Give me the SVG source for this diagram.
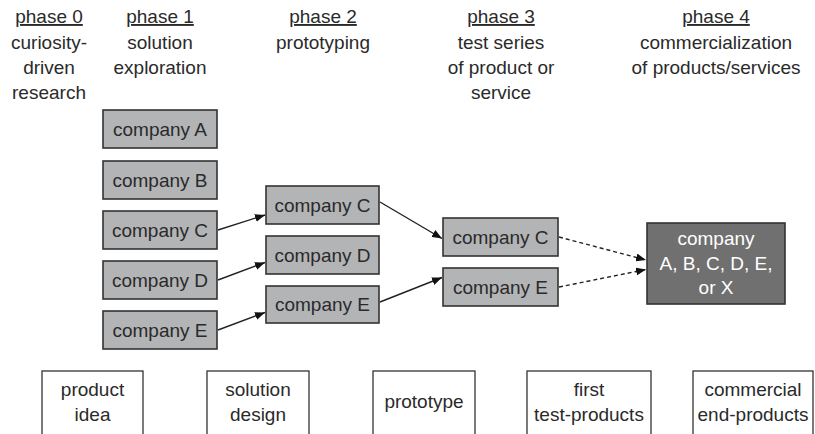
<svg xmlns="http://www.w3.org/2000/svg" width="815" height="434" viewBox="0 0 815 434">
<style>
text{font-family:"Liberation Sans",Arial,sans-serif;font-size:19px;fill:#2a2a2a;text-anchor:middle}
.hd{text-decoration:underline}
.co{fill:#b3b4b6;stroke:#333;stroke-width:1.6}
.dk{fill:#707070;stroke:#333;stroke-width:1.6}
.wt{fill:#fff}
.out{fill:#fff;stroke:#333;stroke-width:1.3}
.cn{stroke:#222;stroke-width:1.4;fill:none}
.ds{stroke-dasharray:4,3}
</style>
<defs>
<marker id="ah" viewBox="0 0 10 8" refX="10" refY="4" markerWidth="10" markerHeight="8" markerUnits="userSpaceOnUse" orient="auto">
<path d="M0,0 L10,4 L0,8 z" fill="#111"/>
</marker>
</defs>
<g id="headers">
<text x="49" y="23" class="hd">phase 0</text>
<text x="49" y="49">curiosity-</text>
<text x="49" y="74">driven</text>
<text x="49" y="99">research</text>
<text x="160" y="23" class="hd">phase 1</text>
<text x="160" y="49">solution</text>
<text x="160" y="74">exploration</text>
<text x="323" y="23" class="hd">phase 2</text>
<text x="323" y="49">prototyping</text>
<text x="501" y="23" class="hd">phase 3</text>
<text x="501" y="49">test series</text>
<text x="501" y="74">of product or</text>
<text x="501" y="99">service</text>
<text x="716" y="23" class="hd">phase 4</text>
<text x="716" y="49">commercialization</text>
<text x="716" y="74">of products/services</text>
</g>
<g id="p1A"><rect class="co" x="103" y="110" width="114" height="38"/><text x="160" y="136">company A</text></g>
<g id="p1B"><rect class="co" x="103" y="161" width="114" height="38"/><text x="160" y="187">company B</text></g>
<g id="p1C"><rect class="co" x="103" y="211" width="114" height="38"/><text x="160" y="237">company C</text></g>
<g id="p1D"><rect class="co" x="103" y="261" width="114" height="38"/><text x="160" y="287">company D</text></g>
<g id="p1E"><rect class="co" x="103" y="311" width="114" height="38"/><text x="160" y="337">company E</text></g>
<g id="p2C"><rect class="co" x="266" y="186" width="113" height="38"/><text x="322.5" y="212">company C</text></g>
<g id="p2D"><rect class="co" x="266" y="236" width="113" height="38"/><text x="322.5" y="262">company D</text></g>
<g id="p2E"><rect class="co" x="266" y="286" width="113" height="37"/><text x="322.5" y="311">company E</text></g>
<g id="p3C"><rect class="co" x="443" y="218" width="115" height="38"/><text x="500.5" y="244">company C</text></g>
<g id="p3E"><rect class="co" x="443" y="268" width="115" height="38"/><text x="500.5" y="294">company E</text></g>
<g id="p4"><rect class="dk" x="647" y="223" width="138" height="81"/>
<text x="716" y="245" class="wt">company</text>
<text x="716" y="270" class="wt">A, B, C, D, E,</text>
<text x="716" y="294" class="wt">or X</text></g>
<g id="connectors">
<line class="cn" x1="218" y1="230" x2="265" y2="215" marker-end="url(#ah)"/>
<line class="cn" x1="218" y1="280" x2="265" y2="262.5" marker-end="url(#ah)"/>
<line class="cn" x1="218" y1="330" x2="265" y2="312.5" marker-end="url(#ah)"/>
<line class="cn" x1="380" y1="202" x2="442" y2="238.5" marker-end="url(#ah)"/>
<line class="cn" x1="380" y1="302" x2="442" y2="277.5" marker-end="url(#ah)"/>
<line class="cn ds" x1="559" y1="237" x2="646" y2="260" marker-end="url(#ah)"/>
<line class="cn ds" x1="559" y1="287" x2="646" y2="269.5" marker-end="url(#ah)"/>
</g>
<g id="o1"><rect class="out" x="42" y="371" width="101" height="80"/><text x="92.5" y="396">product</text><text x="92.5" y="421">idea</text></g>
<g id="o2"><rect class="out" x="207" y="371" width="102" height="80"/><text x="258" y="396">solution</text><text x="258" y="421">design</text></g>
<g id="o3"><rect class="out" x="373" y="371" width="102" height="80"/><text x="424" y="408">prototype</text></g>
<g id="o4"><rect class="out" x="527" y="371" width="124" height="80"/><text x="589" y="396">first</text><text x="589" y="421">test-products</text></g>
<g id="o5"><rect class="out" x="693" y="371" width="120" height="80"/><text x="753" y="396">commercial</text><text x="753" y="421">end-products</text></g>
</svg>
